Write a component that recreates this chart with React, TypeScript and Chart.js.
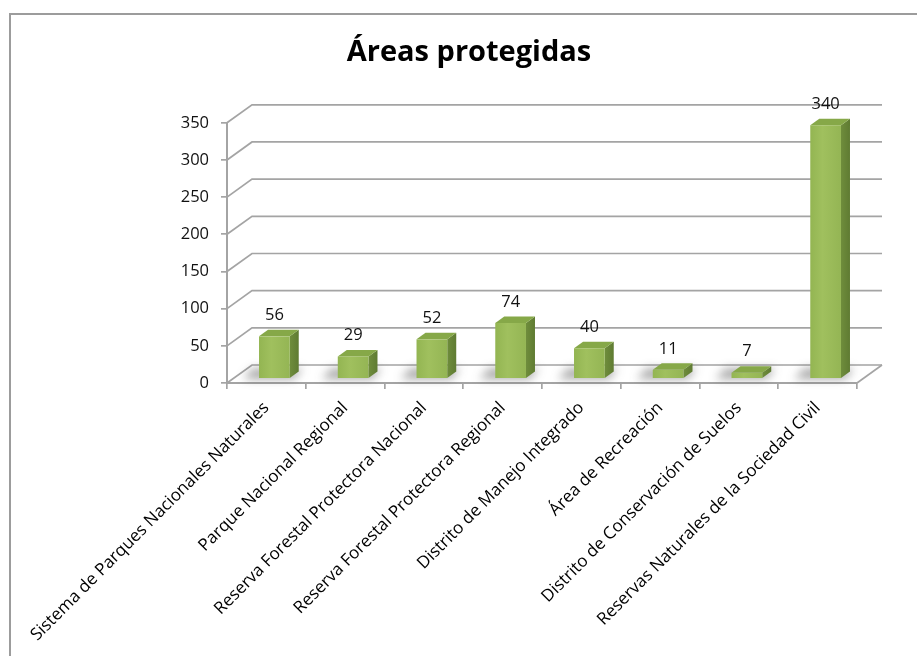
import { useEffect, useRef } from 'react';
import { Chart, registerables } from 'chart.js';

Chart.register(...registerables);

const categories: string[] = [
  'Sistema de Parques Nacionales Naturales',
  'Parque Nacional Regional',
  'Reserva Forestal Protectora Nacional',
  'Reserva Forestal Protectora Regional',
  'Distrito de Manejo Integrado',
  'Área de Recreación',
  'Distrito de Conservación de Suelos',
  'Reservas Naturales de la Sociedad Civil',
];
const values: number[] = [56, 29, 52, 74, 40, 11, 7, 340];
const yTickValues: number[] = [0, 50, 100, 150, 200, 250, 300, 350];
const chartTitle = 'Áreas protegidas';

const FONT = '"Open Sans", Lato, sans-serif';
const GRID = '#a4a4a4';
const WALL_DX = 25;
const WALL_DY = -18;
const BAR_F_DX = 8;
const BAR_F_DY = -5;
const BAR_D_DX = 9;
const BAR_D_DY = -6.5;

const threeD = {
  id: 'threeD',
  beforeDraw(chart: any) {
    const ctx = chart.ctx;
    ctx.save();
    ctx.fillStyle = '#ffffff';
    ctx.fillRect(0, 0, chart.width, chart.height);
    ctx.strokeStyle = '#9c9c9c';
    ctx.lineWidth = 2;
    ctx.strokeRect(10, 14, chart.width + 20, chart.height + 20);
    ctx.restore();
  },
  beforeDatasetsDraw(chart: any) {
    const ctx = chart.ctx;
    const x = chart.scales.x;
    const y = chart.scales.y;
    const L = x.left;
    const R = x.right;
    const B = y.getPixelForValue(0);
    ctx.save();
    ctx.strokeStyle = GRID;
    ctx.lineWidth = 1.7;
    yTickValues.forEach((v) => {
      const py = y.getPixelForValue(v);
      ctx.beginPath();
      ctx.moveTo(L, py);
      ctx.lineTo(L + WALL_DX, py + WALL_DY);
      ctx.lineTo(R + WALL_DX, py + WALL_DY);
      ctx.stroke();
    });
    ctx.beginPath();
    ctx.moveTo(R, B);
    ctx.lineTo(R + WALL_DX, B + WALL_DY);
    ctx.stroke();

    // floor shadows
    const n = values.length;
    const W = (R - L) / n;
    const bw = W * 0.39;
    ctx.filter = 'blur(5px)';
    values.forEach((v, i) => {
      const cx = x.getPixelForValue(i);
      const x0 = cx + BAR_F_DX - bw / 2;
      const yb = B + BAR_F_DY;
      ctx.fillStyle = 'rgba(60,60,60,0.45)';
      ctx.beginPath();
      ctx.moveTo(x0 - 16, yb + 1);
      ctx.lineTo(x0 + bw + 4, yb + 1);
      ctx.lineTo(x0 + bw + BAR_D_DX + 4, yb + BAR_D_DY - 3);
      ctx.lineTo(x0 - 6, yb + BAR_D_DY - 3);
      ctx.closePath();
      ctx.fill();
    });
    ctx.filter = 'none';
    ctx.restore();
  },
  afterDatasetsDraw(chart: any) {
    const ctx = chart.ctx;
    const x = chart.scales.x;
    const y = chart.scales.y;
    const n = values.length;
    const W = (x.right - x.left) / n;
    const bw = W * 0.39;
    ctx.save();
    values.forEach((v, i) => {
      const cx = x.getPixelForValue(i);
      const x0 = cx + BAR_F_DX - bw / 2;
      const x1 = x0 + bw;
      const yb = y.getPixelForValue(0) + BAR_F_DY;
      const yt = y.getPixelForValue(v) + BAR_F_DY;
      // side face
      const sg = ctx.createLinearGradient(x1, 0, x1 + BAR_D_DX, 0);
      sg.addColorStop(0, '#6f8d3c');
      sg.addColorStop(1, '#5f7b32');
      ctx.fillStyle = sg;
      ctx.beginPath();
      ctx.moveTo(x1, yt);
      ctx.lineTo(x1 + BAR_D_DX, yt + BAR_D_DY);
      ctx.lineTo(x1 + BAR_D_DX, yb + BAR_D_DY);
      ctx.lineTo(x1, yb);
      ctx.closePath();
      ctx.fill();
      // top face
      ctx.fillStyle = '#86a848';
      ctx.beginPath();
      ctx.moveTo(x0, yt);
      ctx.lineTo(x1, yt);
      ctx.lineTo(x1 + BAR_D_DX, yt + BAR_D_DY);
      ctx.lineTo(x0 + BAR_D_DX, yt + BAR_D_DY);
      ctx.closePath();
      ctx.fill();
      // front face
      const fg = ctx.createLinearGradient(x0, 0, x1, 0);
      fg.addColorStop(0, '#93b552');
      fg.addColorStop(0.4, '#a0c05e');
      fg.addColorStop(1, '#94b554');
      ctx.fillStyle = fg;
      ctx.fillRect(x0, yt, bw, yb - yt);
      // label
      ctx.fillStyle = '#111111';
      ctx.font = `16.5px ${FONT}`;
      ctx.textAlign = 'center';
      ctx.textBaseline = 'middle';
      ctx.fillText(String(v), x0 + bw / 2, yt - 21);
    });
    ctx.restore();
  },
};

export default function App() {
  const ref = useRef<HTMLCanvasElement>(null);
  useEffect(() => {
    if (!ref.current) return;
    const chart = new Chart(ref.current, {
      type: 'bar',
      data: {
        labels: categories,
        datasets: [
          {
            data: values,
            backgroundColor: 'rgba(0,0,0,0)',
            borderWidth: 0,
          },
        ],
      },
      options: {
        animation: false,
        responsive: false,
        events: [],
        layout: { padding: { left: 81, right: 60, top: 0, bottom: 0 } },
        plugins: {
          legend: { display: false },
          tooltip: { enabled: false },
          title: {
            display: true,
            text: chartTitle,
            color: '#000000',
            font: { family: FONT, size: 29, weight: 'bold', lineHeight: 1.2 },
            padding: { top: 35, bottom: 53 },
          },
        },
        scales: {
          x: {
            afterFit: (s: any) => {
              s.height = 273;
            },
            grid: {
              display: true,
              drawOnChartArea: false,
              drawTicks: true,
              tickLength: 6,
              color: GRID,
              lineWidth: 1.7,
            },
            border: { display: true, color: GRID, width: 2 },
            ticks: {
              autoSkip: false,
              minRotation: 45,
              maxRotation: 45,
              padding: 9,
              color: '#000000',
              font: { family: FONT, size: 17 },
            },
          },
          y: {
            min: 0,
            max: 350,
            afterFit: (s: any) => {
              s.width = 146;
            },
            afterBuildTicks: (s: any) => {
              s.ticks = yTickValues.map((v) => ({ value: v }));
            },
            grid: {
              display: true,
              drawOnChartArea: false,
              drawTicks: true,
              tickLength: 6,
              color: GRID,
              lineWidth: 1.7,
            },
            border: { display: true, color: GRID, width: 2 },
            ticks: {
              padding: 12,
              color: '#111111',
              font: { family: FONT, size: 16.5 },
            },
          },
        },
      },
      plugins: [threeD],
    });
    return () => chart.destroy();
  }, []);
  return (
    <div style={{ position: 'fixed', left: 0, top: 0, width: 917, height: 656 }}>
      <canvas ref={ref} width={917} height={656} style={{ display: 'block' }} />
    </div>
  );
}
